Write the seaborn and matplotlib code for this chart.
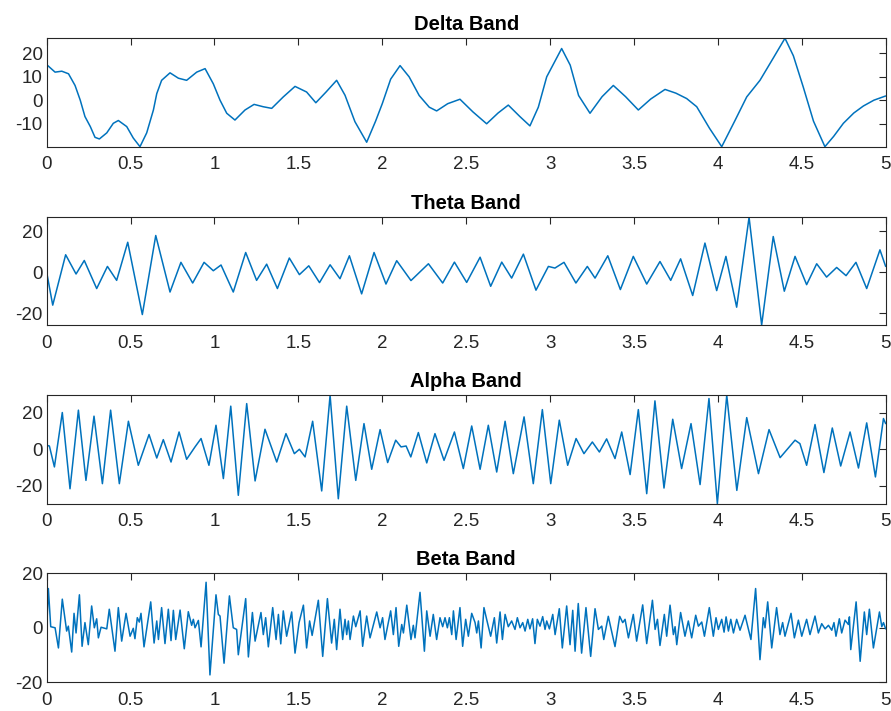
import matplotlib
matplotlib.use("Agg")
import matplotlib.pyplot as plt
import pandas as pd
import seaborn as sns

# ---- EEG band signals (time in s, amplitude) ----
delta_t = [0.000, 0.050, 0.090, 0.130, 0.169, 0.200, 0.228, 0.260, 0.288, 0.314,
           0.358, 0.397, 0.427, 0.477, 0.516, 0.556, 0.596, 0.636, 0.656, 0.685,
           0.735, 0.785, 0.834, 0.894, 0.944, 0.993, 1.033, 1.073, 1.122, 1.182,
           1.236, 1.290, 1.341, 1.410, 1.480, 1.549, 1.604, 1.665, 1.728, 1.778,
           1.837, 1.907, 1.960, 2.000, 2.050, 2.106, 2.160, 2.220, 2.280, 2.324,
           2.390, 2.463, 2.540, 2.622, 2.690, 2.751, 2.820, 2.880, 2.930, 2.980,
           3.069, 3.120, 3.170, 3.238, 3.310, 3.377, 3.450, 3.526, 3.600, 3.685,
           3.750, 3.814, 3.874, 3.950, 4.023, 4.100, 4.172, 4.251, 4.330, 4.400,
           4.450, 4.509, 4.570, 4.638, 4.690, 4.748, 4.810, 4.867, 4.930, 5.000]
delta_v = [15.2, 12.0, 12.4, 11.3, 6.3, 0.0, -7.0, -11.3, -15.9, -16.6,
           -14.0, -9.9, -8.7, -11.3, -16.2, -19.9, -14.0, -4.2, 2.8, 8.5,
           11.7, 9.4, 8.5, 12.0, 13.5, 7.0, 0.0, -5.6, -8.5, -4.2,
           -1.8, -2.8, -3.5, 1.4, 5.9, 3.5, -1.1, 3.5, 8.5, 2.1,
           -9.2, -18.0, -9.0, -1.5, 9.0, 14.8, 10.0, 2.0, -3.0, -4.6,
           -1.5, 0.4, -5.0, -10.1, -5.5, -2.1, -7.0, -11.0, -3.0, 10.0,
           22.1, 15.0, 2.0, -5.6, 1.5, 6.3, 1.5, -4.2, 0.5, 4.6,
           3.0, 0.7, -2.8, -12.0, -19.9, -9.0, 1.4, 8.5, 18.0, 26.5,
           19.0, 5.6, -9.0, -19.9, -15.5, -9.9, -5.5, -2.5, 0.0, 1.8]

theta_t = [0.000, 0.036, 0.113, 0.175, 0.224, 0.298, 0.362, 0.417, 0.483, 0.570,
           0.650, 0.735, 0.800, 0.870, 0.938, 0.993, 1.039, 1.112, 1.186, 1.251,
           1.311, 1.375, 1.446, 1.506, 1.562, 1.626, 1.689, 1.748, 1.804, 1.877,
           1.951, 2.022, 2.086, 2.171, 2.275, 2.360, 2.430, 2.503, 2.583, 2.646,
           2.712, 2.771, 2.841, 2.916, 2.990, 3.029, 3.083, 3.154, 3.222, 3.268,
           3.344, 3.419, 3.496, 3.576, 3.655, 3.719, 3.778, 3.850, 3.923, 3.993,
           4.048, 4.112, 4.186, 4.261, 4.330, 4.396, 4.460, 4.529, 4.589, 4.648,
           4.708, 4.764, 4.823, 4.887, 4.966, 5.000]
theta_v = [0.0, -16.0, 8.6, -0.8, 5.8, -7.9, 2.9, -3.9, 14.7, -20.6,
           18.0, -9.6, 4.9, -5.2, 4.9, 0.8, 3.6, -9.6, 9.7, -3.9,
           4.0, -7.9, 7.0, -1.1, 3.2, -5.0, 3.7, -3.1, 8.1, -10.5,
           9.7, -5.7, 5.7, -4.0, 4.2, -5.2, 5.0, -4.9, 7.4, -6.8,
           5.0, -2.8, 8.9, -8.7, 2.9, 2.1, 4.9, -5.2, 2.9, -2.8,
           8.1, -8.4, 7.8, -5.7, 5.3, -3.9, 6.6, -11.3, 14.3, -8.9,
           7.8, -17.0, 26.9, -25.7, 17.5, -9.2, 7.8, -6.0, 4.2, -2.3,
           2.4, -1.6, 4.9, -7.9, 11.0, 2.9]

alpha_t = [0.000, 0.016, 0.046, 0.093, 0.139, 0.189, 0.234, 0.282, 0.332, 0.381,
           0.433, 0.487, 0.546, 0.610, 0.656, 0.695, 0.741, 0.789, 0.834, 0.884,
           0.920, 0.967, 1.009, 1.053, 1.097, 1.142, 1.192, 1.242, 1.301, 1.371,
           1.426, 1.476, 1.506, 1.540, 1.585, 1.639, 1.689, 1.738, 1.788, 1.842,
           1.891, 1.937, 1.987, 2.032, 2.080, 2.112, 2.142, 2.170, 2.215, 2.265,
           2.314, 2.368, 2.430, 2.483, 2.533, 2.583, 2.632, 2.682, 2.732, 2.781,
           2.845, 2.900, 2.954, 3.004, 3.055, 3.105, 3.155, 3.202, 3.252, 3.294,
           3.337, 3.387, 3.427, 3.477, 3.526, 3.576, 3.625, 3.679, 3.731, 3.784,
           3.840, 3.894, 3.947, 3.997, 4.053, 4.113, 4.172, 4.242, 4.305, 4.371,
           4.460, 4.489, 4.529, 4.579, 4.632, 4.682, 4.732, 4.788, 4.838, 4.887,
           4.939, 4.987, 5.000]
alpha_v = [2.2, 1.8, -9.7, 20.2, -21.7, 21.5, -17.1, 18.2, -18.9, 21.5,
           -18.9, 15.4, -8.8, 8.1, -4.8, 5.3, -7.0, 9.5, -5.5, 1.3,
           5.9, -8.8, 13.2, -16.1, 23.7, -25.3, 25.1, -17.4, 11.0, -7.0,
           8.6, -2.4, 0.0, -4.2, 15.4, -22.9, 29.7, -27.2, 23.7, -17.1,
           14.1, -11.0, 10.8, -7.3, 5.0, 1.3, 1.8, -4.2, 9.2, -7.5,
           8.6, -6.1, 9.5, -10.6, 12.8, -11.0, 13.2, -12.5, 15.4, -13.4,
           17.8, -18.9, 21.8, -18.9, 16.0, -8.8, 5.9, -2.4, 4.0, -1.5,
           5.7, -5.1, 9.5, -13.9, 21.8, -24.4, 26.6, -21.3, 16.5, -10.6,
           14.1, -19.4, 27.9, -29.9, 29.7, -22.6, 17.4, -13.4, 10.8, -4.6,
           5.0, 3.1, -8.8, 13.6, -12.8, 11.7, -9.2, 9.5, -10.3, 14.5,
           -15.2, 16.9, 14.1]

beta_t = [0.000, 0.010, 0.024, 0.050, 0.070, 0.093, 0.119, 0.129, 0.149, 0.163,
          0.175, 0.195, 0.211, 0.228, 0.248, 0.268, 0.284, 0.298, 0.308, 0.324,
          0.358, 0.373, 0.407, 0.427, 0.447, 0.473, 0.497, 0.516, 0.526, 0.540,
          0.552, 0.562, 0.580, 0.620, 0.640, 0.656, 0.666, 0.685, 0.705, 0.725,
          0.741, 0.755, 0.769, 0.795, 0.820, 0.844, 0.864, 0.874, 0.884, 0.904,
          0.920, 0.950, 0.973, 1.009, 1.023, 1.033, 1.057, 1.089, 1.112, 1.132,
          1.142, 1.186, 1.202, 1.226, 1.242, 1.277, 1.291, 1.305, 1.321, 1.347,
          1.367, 1.381, 1.395, 1.410, 1.430, 1.460, 1.480, 1.504, 1.530, 1.549,
          1.567, 1.582, 1.619, 1.645, 1.673, 1.698, 1.714, 1.728, 1.748, 1.764,
          1.778, 1.788, 1.798, 1.808, 1.828, 1.842, 1.868, 1.883, 1.907, 1.927,
          1.967, 1.987, 2.002, 2.016, 2.050, 2.066, 2.082, 2.098, 2.116, 2.126,
          2.146, 2.171, 2.185, 2.195, 2.225, 2.251, 2.265, 2.285, 2.304, 2.324,
          2.344, 2.360, 2.374, 2.388, 2.400, 2.414, 2.424, 2.440, 2.463, 2.479,
          2.497, 2.513, 2.533, 2.553, 2.563, 2.573, 2.589, 2.606, 2.622, 2.646,
          2.668, 2.682, 2.702, 2.716, 2.732, 2.751, 2.771, 2.791, 2.805, 2.821,
          2.837, 2.851, 2.867, 2.880, 2.896, 2.910, 2.924, 2.940, 2.956, 2.970,
          2.980, 2.996, 3.016, 3.030, 3.055, 3.073, 3.099, 3.119, 3.135, 3.149,
          3.168, 3.188, 3.214, 3.242, 3.268, 3.288, 3.308, 3.320, 3.347, 3.387,
          3.415, 3.433, 3.447, 3.467, 3.496, 3.516, 3.552, 3.576, 3.610, 3.626,
          3.640, 3.655, 3.681, 3.695, 3.715, 3.735, 3.745, 3.755, 3.778, 3.804,
          3.824, 3.844, 3.868, 3.884, 3.904, 3.920, 3.949, 3.973, 3.989, 4.003,
          4.023, 4.037, 4.049, 4.063, 4.077, 4.093, 4.112, 4.132, 4.162, 4.197,
          4.225, 4.251, 4.271, 4.281, 4.297, 4.321, 4.350, 4.370, 4.386, 4.400,
          4.436, 4.456, 4.480, 4.500, 4.529, 4.549, 4.579, 4.599, 4.619, 4.639,
          4.659, 4.679, 4.692, 4.704, 4.724, 4.738, 4.758, 4.778, 4.784, 4.792,
          4.824, 4.848, 4.873, 4.887, 4.903, 4.927, 4.963, 4.977, 4.987, 5.000]
beta_v = [-0.6, 14.4, 0.4, 0.0, -7.4, 10.5, -1.2, 0.6, -8.9, 5.3,
          -1.9, 12.1, -6.8, 1.9, -6.2, 8.0, 0.0, 3.3, -3.7, 0.2,
          -0.4, 6.8, -8.6, 7.4, -4.9, 5.3, -3.1, -0.2, -4.0, 3.7,
          2.1, 5.3, -7.0, 9.5, -5.6, 2.5, -4.3, 7.4, -5.8, 6.8,
          -4.7, 6.4, -4.3, 6.5, -7.7, 5.9, 0.9, 3.1, 0.0, 2.7,
          -7.0, 16.7, -17.3, 12.1, 4.9, 4.3, -13.0, 11.7, 0.0, -0.6,
          -9.9, 10.7, -10.7, 5.6, -4.9, 5.6, -2.5, 3.7, -7.0, 7.4,
          -4.3, 4.9, -5.9, 6.2, -3.1, 5.8, -9.3, 1.9, 8.3, -7.4,
          2.5, -2.8, 10.1, -10.5, 10.7, -5.6, 3.1, -8.0, 6.8, -4.3,
          3.1, -2.5, 2.5, -4.3, 4.3, 0.4, 6.2, -6.8, 4.3, -3.7,
          5.8, 0.0, 3.7, -4.3, 6.2, -2.5, 7.4, -6.8, 1.2, -1.9,
          8.3, -4.3, 0.9, -3.7, 13.0, -8.6, 6.2, -3.1, 4.9, -4.3,
          3.7, 0.4, 3.7, 0.0, 3.7, -2.5, 6.2, -4.3, 7.4, -6.8,
          3.1, -3.1, 5.3, 1.9, -1.9, 2.5, -7.4, 7.4, 3.1, -3.1,
          3.7, -5.6, 5.8, -4.3, 4.9, 0.4, 2.5, -0.6, 3.7, 0.0,
          1.9, -1.2, 3.1, -0.4, 3.3, -5.8, 3.1, 0.6, 4.1, -0.6,
          2.5, -0.4, 4.9, -2.5, 7.0, -7.4, 8.0, -6.2, 6.4, -8.6,
          8.9, -9.3, 7.4, -10.5, 7.0, -0.6, 0.6, -4.3, 4.2, -6.9,
          4.2, 1.9, 3.1, -3.7, 4.9, -4.9, 8.4, -5.8, 10.1, -0.6,
          3.1, -6.5, 4.9, -3.1, 8.3, -2.5, 0.4, -6.2, 5.6, -3.1,
          2.5, -3.7, 4.6, 0.6, 2.1, -3.1, 7.4, -3.1, 3.7, -0.6,
          3.1, -1.6, 4.0, -1.2, 3.1, -1.9, 3.1, -0.9, 4.6, -4.3,
          14.4, -11.7, 3.7, 0.0, 9.5, -7.4, 7.4, -2.5, 1.9, -3.1,
          5.3, -3.7, 2.8, -3.1, 3.1, -2.5, 4.3, -1.9, 1.5, -0.4,
          0.9, -0.9, 1.9, -3.1, 3.3, -1.9, 2.8, 1.2, 4.0, -8.0,
          9.5, -12.3, 5.8, -2.5, 6.8, -7.4, 5.8, 0.4, 1.9, -0.4]

band_titles = ["Delta Band", "Theta Band", "Alpha Band", "Beta Band"]
x_ticks = [0, 0.5, 1, 1.5, 2, 2.5, 3, 3.5, 4, 4.5, 5]
x_tick_labels = ["0", "0.5", "1", "1.5", "2", "2.5", "3", "3.5", "4", "4.5", "5"]
band_yticks = [[-10, 0, 10, 20], [-20, 0, 20], [-20, 0, 20], [-20, 0, 20]]

sns.set_theme(style="white")
plt.rcParams["font.family"] = ["Liberation Sans", "DejaVu Sans"]
plt.rcParams["axes.unicode_minus"] = False

LINE = "#0072BD"
INK = "#262626"

fig = plt.figure(figsize=(8.91, 7.11), dpi=100)
left, width = 0.0524, 0.9416
axes_rects = [
    [left, 0.7937, width, 0.1525],
    [left, 0.5429, width, 0.1515],
    [left, 0.2916, width, 0.1525],
    [left, 0.0404, width, 0.1533],
]

bands = [(delta_t, delta_v), (theta_t, theta_v), (alpha_t, alpha_v), (beta_t, beta_v)]

for i, ((t, v), title, yt, rect) in enumerate(zip(bands, band_titles, band_yticks, axes_rects)):
    ax = fig.add_axes(rect)
    df = pd.DataFrame({"time": t, "amp": v})
    sns.lineplot(data=df, x="time", y="amp", ax=ax, color=LINE, linewidth=1.1,
                 estimator=None, sort=False)
    ax.set_xlim(0, 5)
    if i < 3:
        ax.set_ylim(min(v), max(v))
    else:
        ax.set_ylim(-20, 20)
    ax.set_xticks(x_ticks)
    ax.set_xticklabels(x_tick_labels)
    ax.set_yticks(yt)
    ax.set_yticklabels([str(y) for y in yt])
    ax.set_xlabel("")
    ax.set_ylabel("")
    ax.set_title(title, fontsize=14.5, fontweight="bold", color="black", pad=6)
    ax.tick_params(axis="both", direction="in", length=5, width=0.8, colors=INK,
                   labelsize=13.5, top=True, right=True,
                   labeltop=False, labelright=False)
    ax.tick_params(axis="x", pad=7)
    ax.tick_params(axis="y", pad=3)
    for sp in ax.spines.values():
        sp.set_visible(True)
        sp.set_color(INK)
        sp.set_linewidth(0.8)
    ax.set_facecolor("white")

fig.savefig("out.png", dpi=100, facecolor="white")
